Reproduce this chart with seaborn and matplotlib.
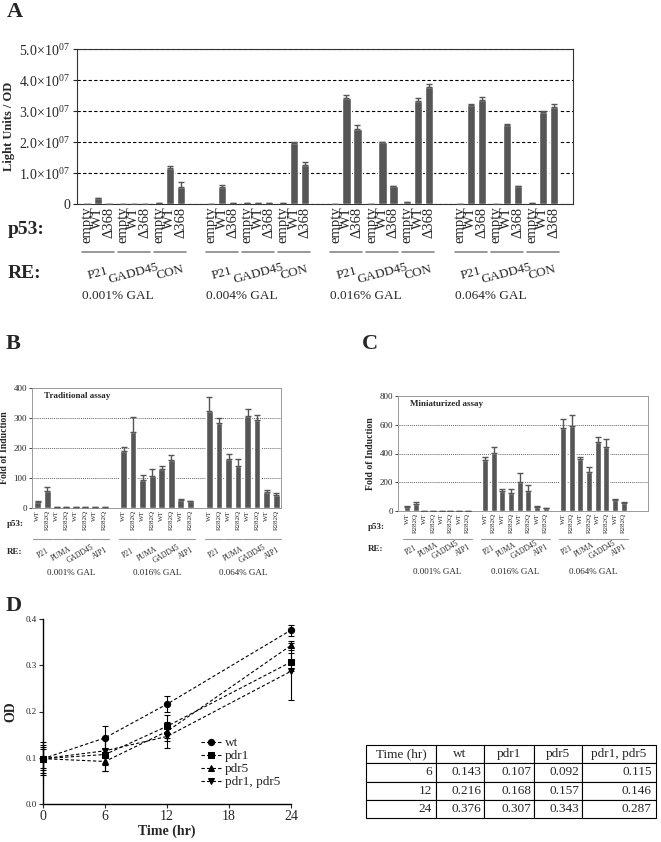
import numpy as np
import pandas as pd
import seaborn as sns
import matplotlib
matplotlib.use("Agg")
from matplotlib import pyplot as plt
from matplotlib.transforms import blended_transform_factory

# ---------------- data ----------------
# panel A: light units / OD (units of 1e7)
A_gal = ["0.001% GAL", "0.004% GAL", "0.016% GAL", "0.064% GAL"]
A_re = ["P21", "GADD45", "CON"]
A_p53 = ["empty", "WT", "\u0394368"]
A_val = [0.00, 0.18, 0.01,  0.00, 0.01, 0.00,  0.04, 1.16, 0.55,
         0.01, 0.54, 0.03,  0.02, 0.03, 0.02,  0.02, 1.97, 1.27,
         0.01, 3.42, 2.43,  0.01, 1.99, 0.59,  0.06, 3.33, 3.76,
         0.01, 3.20, 3.37,  0.01, 2.56, 0.59,  0.02, 2.96, 3.12]
A_err = [0.00, 0.02, 0.00,  0.00, 0.00, 0.00,  0.00, 0.05, 0.16,
         0.00, 0.06, 0.00,  0.00, 0.00, 0.00,  0.00, 0.03, 0.10,
         0.00, 0.10, 0.12,  0.00, 0.02, 0.00,  0.00, 0.08, 0.11,
         0.00, 0.04, 0.08,  0.00, 0.02, 0.00,  0.00, 0.05, 0.10]

# panels B and C: fold of induction
BC_gal = ["0.001% GAL", "0.016% GAL", "0.064% GAL"]
BC_re = ["P21", "PUMA", "GADD45", "AIP1"]
BC_p53 = ["WT", "R282Q"]
B_val = [20, 58, 3, 4, 3, 3, 2, 2,
         191, 254, 93, 108, 131, 159, 28, 22,
         324, 284, 162, 141, 308, 293, 53, 43]
B_err = [3, 12, 1, 1, 1, 1, 0, 0,
         12, 49, 17, 23, 10, 18, 2, 2,
         46, 16, 19, 21, 22, 17, 8, 7]
C_val = [30, 49, 2, 1, 1, 1, 0, 0,
         355, 406, 139, 123, 204, 142, 30, 20,
         578, 594, 364, 269, 478, 445, 79, 58]
C_err = [3, 12, 0, 0, 0, 0, 0, 0,
         20, 42, 15, 30, 58, 37, 4, 3,
         60, 74, 14, 40, 39, 56, 4, 5]

# panel D: growth curves
D_time = [0, 6, 12, 24]
D_names = ["wt", "pdr1", "pdr5", "pdr1, pdr5"]
D_wt = [0.098, 0.143, 0.216, 0.376]
D_pdr1 = [0.098, 0.107, 0.168, 0.307]
D_pdr5 = [0.098, 0.092, 0.157, 0.343]
D_pdr15 = [0.098, 0.115, 0.146, 0.287]
D_wt_err = [0.020, 0.025, 0.018, 0.012]
D_pdr1_err = [0.030, 0.035, 0.025, 0.020]
D_pdr5_err = [0.025, 0.020, 0.020, 0.010]
D_pdr15_err = [0.035, 0.030, 0.025, 0.062]

T_cols = ["Time (hr)", "wt", "pdr1", "pdr5", "pdr1, pdr5"]
T_time = ["6", "12", "24"]

BAR = "#565656"

sns.set_style("white")
plt.rcParams["font.family"] = ["Liberation Serif", "DejaVu Serif"]
plt.rcParams["mathtext.fontset"] = "custom"
plt.rcParams["mathtext.rm"] = "Liberation Serif"
plt.rcParams["axes.linewidth"] = 0.8

W, H = 661, 842
fig = plt.figure(figsize=(W / 100, H / 100), dpi=100)


def px_axes(left, top, right, bottom):
    """add axes given pixel box"""
    return fig.add_axes([left / W, 1 - bottom / H, (right - left) / W, (bottom - top) / H])


def bar_panel(ax, pos, vals, errs, width):
    df = pd.DataFrame({"pos": pos, "value": vals, "err": errs})
    sns.barplot(data=df, x="pos", y="value", native_scale=True, color=BAR,
                saturation=1, width=width, errorbar=None, ax=ax, zorder=3)
    ax.errorbar(df.pos, df.value, yerr=[np.zeros(len(df)), df.err], fmt="none",
                ecolor=BAR, elinewidth=1, capsize=2.2, capthick=1, zorder=4)
    ax.set_xlabel("")


# ---------------- panel A ----------------
GS, RS = 11.3, 3.27
A_pos, A_lab = [], []
for g in range(len(A_gal)):
    for r in range(len(A_re)):
        for k in range(len(A_p53)):
            A_pos.append(g * GS + r * RS + k)
            A_lab.append(A_p53[k])

axA = px_axes(77, 49, 573, 204)
bar_panel(axA, A_pos, np.array(A_val) * 1e7, np.array(A_err) * 1e7, 0.75)
axA.set_xlim(-0.9, 44.2)
axA.set_ylim(0, 5e7)
yt = [0, 1e7, 2e7, 3e7, 4e7, 5e7]
axA.set_yticks(yt)
axA.set_yticklabels(["0"] + [r"%.1f$\times$10$^{07}$" % (v / 1e7) for v in yt[1:]], fontsize=10)
axA.yaxis.grid(True, color="black", linestyle=(0, (3, 2)), linewidth=0.8)
axA.set_axisbelow(True)
axA.set_xticks(A_pos)
axA.set_xticklabels(A_lab, rotation=90, fontsize=10.5)
axA.tick_params(axis="x", length=0, pad=2)
axA.tick_params(axis="y", length=3, left=True, pad=2)
axA.set_ylabel("Light Units / OD", fontsize=9, fontweight="bold", labelpad=3)
for s in axA.spines.values():
    s.set_color("#333333")
trA = blended_transform_factory(axA.transData, axA.transAxes)
for g in range(len(A_gal)):
    for r in range(len(A_re)):
        c = g * GS + r * RS + 1
        axA.plot([c - 1.45, c + 1.45], [-0.31, -0.31], transform=trA, clip_on=False,
                 color="#888888", lw=1.2)
        axA.text(c, -0.445, A_re[r], transform=trA, rotation=15, ha="center",
                 va="center", fontsize=9.5)
    axA.text(g * GS + 2.8, -0.595, A_gal[g], transform=trA, ha="center",
             va="center", fontsize=9.5)
fig.text(8 / W, 1 - 230 / H, "p53:", fontsize=14, fontweight="bold", va="center")
fig.text(8 / W, 1 - 273 / H, "RE:", fontsize=14, fontweight="bold", va="center")
fig.text(7 / W, 1 - 12 / H, "A", fontsize=16, fontweight="bold", va="center")

# ---------------- panels B and C ----------------
BC_pos, BC_lab = [], []
for g in range(len(BC_gal)):
    for r in range(len(BC_re)):
        for k in range(len(BC_p53)):
            BC_pos.append(g * 9 + r * 2 + k)
            BC_lab.append(BC_p53[k])


def bc_panel(box, vals, errs, ymax, title, xlim, y_line, y_re, y_gal, lab_x, lab_y):
    ax = px_axes(*box)
    bar_panel(ax, BC_pos, vals, errs, 0.7)
    ax.set_xlim(*xlim)
    ax.set_ylim(0, ymax)
    ax.set_yticks(np.linspace(0, ymax, 5))
    ax.set_yticklabels([str(int(v)) for v in np.linspace(0, ymax, 5)], fontsize=6.5)
    ax.yaxis.grid(True, color="#666666", linestyle=(0, (1, 1)), linewidth=0.7)
    ax.set_axisbelow(True)
    ax.set_xticks(BC_pos)
    ax.set_xticklabels(BC_lab, rotation=90, fontsize=5)
    ax.tick_params(axis="x", length=0, pad=1.5)
    ax.tick_params(axis="y", length=2, left=True, pad=1.5, width=0.6)
    ax.set_ylabel("Fold of Induction", fontsize=7, fontweight="bold", labelpad=3)
    for s in ax.spines.values():
        s.set_color("#999999")
        s.set_linewidth(0.7)
    ax.text(0.05, 0.93, title, transform=ax.transAxes, fontsize=6.5,
            fontweight="bold", va="center")
    tr = blended_transform_factory(ax.transData, ax.transAxes)
    for g in range(len(BC_gal)):
        for r in range(len(BC_re)):
            c = g * 9 + r * 2 + 0.5
            ax.plot([c - 0.95, c + 0.95], [y_line, y_line], transform=tr,
                    clip_on=False, color="#999999", lw=0.8)
            ax.text(c, y_re, BC_re[r], transform=tr, rotation=30, ha="center",
                    va="center", fontsize=5.5)
        ax.text(g * 9 + 3.5, y_gal, BC_gal[g], transform=tr, ha="center",
                va="center", fontsize=6.5)
    fig.text(lab_x / W, 1 - lab_y[0] / H, "p53:", fontsize=6.5, fontweight="bold",
             va="center")
    fig.text(lab_x / W, 1 - lab_y[1] / H, "RE:", fontsize=6.5, fontweight="bold",
             va="center")
    return ax


bc_panel((32, 388, 281, 508), B_val, B_err, 400, "Traditional assay",
         (-0.6, 25.5), -0.26, -0.38, -0.54, 7, (524, 552))
bc_panel((398, 396, 648, 511), C_val, C_err, 800, "Miniaturized assay",
         (-1.04, 27.8), -0.245, -0.34, -0.53, 368, (527, 549))
fig.text(6 / W, 1 - 344 / H, "B", fontsize=16, fontweight="bold", va="center")
fig.text(362 / W, 1 - 344 / H, "C", fontsize=16, fontweight="bold", va="center")

# ---------------- panel D ----------------
axD = px_axes(43, 619, 291, 804)
markers = ["o", "s", "^", "v"]
series = [D_wt, D_pdr1, D_pdr5, D_pdr15]
errs = [D_wt_err, D_pdr1_err, D_pdr5_err, D_pdr15_err]
for name, m, vals, e in zip(D_names, markers, series, errs):
    sns.lineplot(x=D_time, y=vals, ax=axD, color="black", marker=m, markersize=4.5,
                 markeredgecolor="black", linestyle=(0, (3, 2)), linewidth=0.8,
                 label=name, clip_on=False, zorder=3)
    axD.errorbar(D_time, vals, yerr=e, fmt="none", ecolor="black", elinewidth=0.8,
                 capsize=2.5, capthick=0.8, clip_on=False, zorder=2)
axD.set_xlim(0, 24)
axD.set_ylim(0, 0.4)
axD.set_xticks([0, 6, 12, 18, 24])
axD.set_xticklabels(["0", "6", "12", "18", "24"], fontsize=10)
axD.set_yticks([0, 0.1, 0.2, 0.3, 0.4])
axD.set_yticklabels(["0.0", "0.1", "0.2", "0.3", "0.4"], fontsize=6.5)
axD.tick_params(axis="both", length=3, width=0.8, bottom=True, left=True, pad=1.5)
axD.set_xlabel("Time (hr)", fontsize=10, fontweight="bold", labelpad=1)
axD.set_ylabel("OD", fontsize=10, fontweight="bold", labelpad=6)
sns.despine(ax=axD)
for s in ("left", "bottom"):
    axD.spines[s].set_linewidth(1.0)
    axD.spines[s].set_color("black")
axD.legend(loc="lower left", bbox_to_anchor=(0.61, 0.05), frameon=False, fontsize=9.5,
           handlelength=1.5, labelspacing=0.05, handletextpad=0.3, borderpad=0)
fig.text(6 / W, 1 - 606 / H, "D", fontsize=16, fontweight="bold", va="center")

# ---------------- table ----------------
axT = px_axes(366, 745, 656, 818)
axT.axis("off")
rows = [[t] + ["%.3f" % s[i + 1] for s in series] for i, t in enumerate(T_time)]
tbl = axT.table(cellText=rows, colLabels=T_cols, colWidths=[70, 48, 50, 48, 74],
                bbox=[0, 0, 1, 1], cellLoc="right")
tbl.auto_set_font_size(False)
for (r, c), cell in tbl.get_celld().items():
    cell.set_fontsize(9.5)
    cell.set_linewidth(0.8)
    cell.PAD = 0.06
    if r == 0:
        cell.get_text().set_ha("center")

fig.savefig("out.png", dpi=100)
